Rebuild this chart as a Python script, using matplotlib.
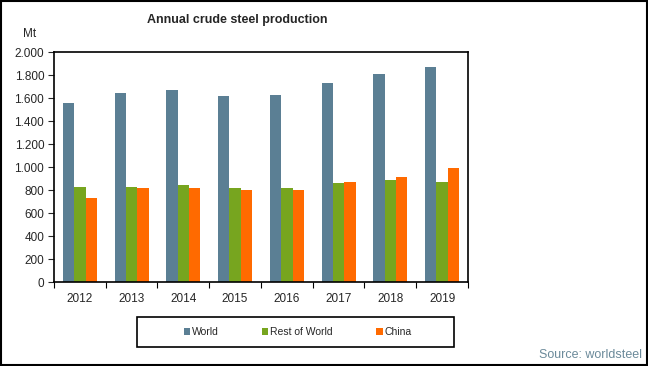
import numpy as np
import matplotlib.pyplot as plt
from matplotlib.patches import Rectangle
from matplotlib.ticker import FuncFormatter

plt.rcParams['font.family'] = ['Liberation Sans', 'DejaVu Sans']

years = ['2012', '2013', '2014', '2015', '2016', '2017', '2018', '2019']
world = [1560, 1650, 1670, 1620, 1627, 1730, 1810, 1870]
rest_of_world = [829, 829, 846, 820, 820, 864, 890, 873]
china = [733, 822, 822, 804, 807, 871, 920, 996]

c_world = '#5B7F94'
c_row = '#77A51F'
c_china = '#FF6A00'
txt = '#262626'

fig = plt.figure(figsize=(6.48, 3.66), dpi=100)
ax = fig.add_axes([0.0833, 0.2287, 0.6389, 0.6283])

x = np.arange(len(years))
w = 0.22
ax.bar(x - w, world, w, color=c_world, label='World')
ax.bar(x, rest_of_world, w, color=c_row, label='Rest of World')
ax.bar(x + w, china, w, color=c_china, label='China')

ax.set_xlim(-0.5, len(years) - 0.5)
ax.set_ylim(0, 2000)
ax.set_yticks(np.arange(0, 2001, 200))
ax.yaxis.set_major_formatter(FuncFormatter(lambda v, p: f'{int(v):,}'.replace(',', '.')))
ax.set_xticks(x)
ax.set_xticklabels(years)
ax.set_xticks(np.arange(-0.5, len(years), 1), minor=True)
ax.tick_params(axis='x', which='major', length=0, pad=8, labelsize=8.5, colors=txt)
ax.tick_params(axis='x', which='minor', length=4, direction='out', width=0.8)
ax.tick_params(axis='y', length=4, direction='out', width=0.8, labelsize=8.5, colors=txt, pad=3)
for s in ax.spines.values():
    s.set_linewidth(1.2)
    s.set_color('black')

fig.text(0.366, 0.945, 'Annual crude steel production', ha='center', va='center',
         fontsize=9, fontweight='bold', color=txt)
fig.text(0.046, 0.907, 'Mt', ha='center', va='center', fontsize=8.5, color=txt)

# legend box
fig.patches.append(Rectangle((0.211, 0.052), 0.49, 0.082, transform=fig.transFigure,
                             fill=False, edgecolor='black', linewidth=1.2))
fig.legend(loc='center', bbox_to_anchor=(0.459, 0.093), ncol=3, frameon=False,
           fontsize=7.5, handlelength=0.6, handleheight=0.6, handletextpad=0.15,
           columnspacing=4.2, labelcolor=txt)

fig.text(0.99, 0.03, 'Source: worldsteel', ha='right', va='center', fontsize=9, color='#6B8A9A')

# outer frame
fig.patches.append(Rectangle((0.001, 0.002), 0.997, 0.995, transform=fig.transFigure,
                             fill=False, edgecolor='black', linewidth=1.5))

fig.savefig('out.png', dpi=100)
